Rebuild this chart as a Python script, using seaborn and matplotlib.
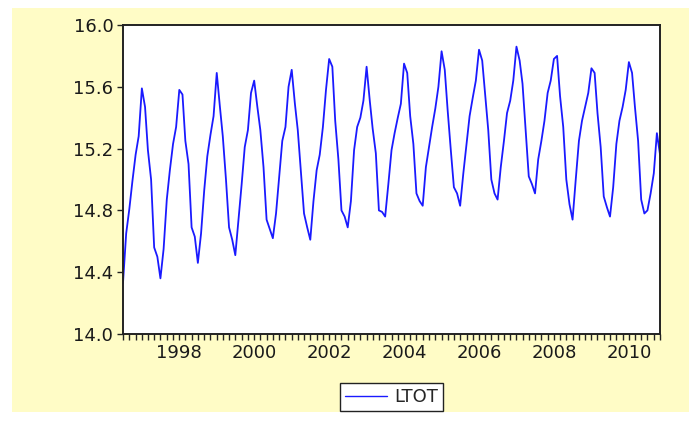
import matplotlib
matplotlib.use('Agg')
import matplotlib.pyplot as plt
import matplotlib.dates as mdates
from matplotlib.patches import Rectangle
from matplotlib.ticker import FormatStrFormatter
import seaborn as sns
import pandas as pd

# monthly series, starting July 1996
start_month = '1996-07'
series_name = 'LTOT'
ltot = [
	14.33, 14.65, 14.81, 14.99, 15.16, 15.28, 15.59, 15.47, 15.19, 15.00, 14.56, 14.50,
	14.36, 14.55, 14.87, 15.06, 15.23, 15.34, 15.58, 15.55, 15.25, 15.10, 14.69, 14.63,
	14.46, 14.65, 14.93, 15.15, 15.29, 15.41, 15.69, 15.47, 15.28, 15.00, 14.69, 14.61,
	14.51, 14.74, 14.97, 15.21, 15.32, 15.56, 15.64, 15.47, 15.32, 15.08, 14.74, 14.68,
	14.62, 14.78, 15.02, 15.25, 15.34, 15.60, 15.71, 15.49, 15.32, 15.05, 14.78, 14.69,
	14.61, 14.86, 15.06, 15.16, 15.34, 15.58, 15.78, 15.73, 15.38, 15.13, 14.80, 14.76,
	14.69, 14.86, 15.19, 15.34, 15.40, 15.51, 15.73, 15.51, 15.33, 15.17, 14.80, 14.79,
	14.76, 14.97, 15.19, 15.30, 15.40, 15.49, 15.75, 15.69, 15.41, 15.23, 14.91, 14.86,
	14.83, 15.08, 15.21, 15.34, 15.46, 15.60, 15.83, 15.71, 15.45, 15.19, 14.95, 14.91,
	14.83, 15.04, 15.23, 15.41, 15.53, 15.64, 15.84, 15.77, 15.56, 15.32, 15.00, 14.91,
	14.87, 15.08, 15.25, 15.43, 15.51, 15.64, 15.86, 15.77, 15.62, 15.32, 15.02, 14.97,
	14.91, 15.13, 15.25, 15.38, 15.56, 15.64, 15.78, 15.80, 15.54, 15.34, 15.00, 14.84,
	14.74, 15.00, 15.25, 15.38, 15.47, 15.56, 15.72, 15.69, 15.43, 15.21, 14.89, 14.82,
	14.76, 14.95, 15.23, 15.38, 15.47, 15.58, 15.76, 15.69, 15.47, 15.25, 14.87, 14.78,
	14.80, 14.91, 15.04, 15.30, 15.16,
]
y_ticks = [14.0, 14.4, 14.8, 15.2, 15.6, 16.0]

sns.set_style("ticks")
plt.rcParams['font.family'] = ['DejaVu Sans']

data = pd.DataFrame({
	'date': pd.date_range(start_month, periods=len(ltot), freq='MS'),
	series_name: ltot,
})

fig = plt.figure(figsize=(6.89, 4.21), dpi=100, facecolor='white')
# yellow backdrop of the screenshot, kept behind the axes
fig.patches.append(Rectangle((0.017, 0.021), 0.983, 0.96, transform=fig.transFigure,
	facecolor='#FFFCC6', edgecolor='none', zorder=-10))

ax = fig.add_axes([0.1785, 0.2067, 0.7795, 0.7339])
ax.set_zorder(5)
ax.set_facecolor('white')
sns.lineplot(data=data, x='date', y=series_name, ax=ax, color='#1a1aff',
	linewidth=1.3, label=series_name, legend=False)

ax.set_xlim(data['date'].iloc[0], data['date'].iloc[-1])
ax.set_ylim(14.0, 16.0)
ax.set_yticks(y_ticks)
ax.yaxis.set_major_formatter(FormatStrFormatter('%.1f'))
ax.xaxis.set_major_locator(mdates.YearLocator(2))
ax.xaxis.set_major_formatter(mdates.DateFormatter('%Y'))
ax.xaxis.set_minor_locator(mdates.MonthLocator(bymonth=[1, 3, 5, 7, 9, 11]))
ax.set_xlabel('')
ax.set_ylabel('')
ax.grid(False)

for side in ['top', 'right', 'bottom', 'left']:
	ax.spines[side].set_visible(True)
	ax.spines[side].set_color('#222222')
	ax.spines[side].set_linewidth(1.4)
ax.tick_params(which='both', direction='out', length=4, width=1, color='#222222',
	labelsize=13, labelcolor='#1a1a1a', pad=3)
ax.tick_params(axis='x', which='minor', length=4)

handles, labels = ax.get_legend_handles_labels()
leg = fig.legend(handles, labels, loc='center', bbox_to_anchor=(391.5 / 689, 0.057),
	fontsize=13, frameon=True, fancybox=False, framealpha=1, edgecolor='#222222',
	handlelength=2.3, handletextpad=0.4, borderpad=0.3)
leg.get_frame().set_linewidth(1.0)
leg.get_lines()[0].set_linewidth(1.0)

fig.savefig('out.png', dpi=100, facecolor=fig.get_facecolor())
plt.close()
